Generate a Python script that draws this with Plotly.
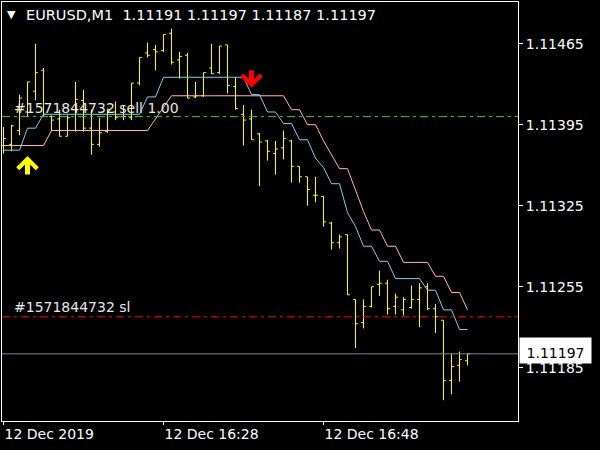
import plotly.graph_objects as go

# ---------------- data ----------------
bar_index = list(range(59))  # 1-minute bars, index 0 = 12 Dec 2019 16:08

opens = [1.11377, 1.11378, 1.11390, 1.11406, 1.11424, 1.11442, 1.11402, 1.11400, 1.11385, 1.11390,
         1.11416, 1.11392, 1.11378, 1.11389, 1.11406, 1.11402, 1.11401, 1.11431, 1.11457, 1.11460,
         1.11459, 1.11474, 1.11451, 1.11455, 1.11419, 1.11420, 1.11444, 1.11440, 1.11464, 1.11428,
         1.11404, 1.11400, 1.11387, 1.11381, 1.11370, 1.11375, 1.11381, 1.11359, 1.11350, 1.11334,
         1.11333, 1.11310, 1.11293, 1.11300, 1.11244, 1.11224, 1.11238, 1.11257, 1.11258, 1.11238,
         1.11235, 1.11237, 1.11244, 1.11255, 1.11236, 1.11226, 1.11174, 1.11187, 1.11191]
highs = [1.11393, 1.11395, 1.11421, 1.11432, 1.11465, 1.11444, 1.11403, 1.11408, 1.11403, 1.11432,
         1.11425, 1.11408, 1.11401, 1.11409, 1.11415, 1.11412, 1.11431, 1.11453, 1.11466, 1.11464,
         1.11473, 1.11478, 1.11458, 1.11457, 1.11432, 1.11440, 1.11465, 1.11463, 1.11464, 1.11436,
         1.11412, 1.11408, 1.11388, 1.11382, 1.11381, 1.11390, 1.11382, 1.11359, 1.11350, 1.11350,
         1.11333, 1.11311, 1.11300, 1.11300, 1.11244, 1.11244, 1.11255, 1.11269, 1.11261, 1.11249,
         1.11246, 1.11256, 1.11258, 1.11258, 1.11240, 1.11226, 1.11197, 1.11199, 1.11197]
lows = [1.11370, 1.11372, 1.11386, 1.11402, 1.11416, 1.11402, 1.11390, 1.11385, 1.11385, 1.11389,
        1.11389, 1.11369, 1.11376, 1.11388, 1.11399, 1.11399, 1.11399, 1.11429, 1.11453, 1.11442,
        1.11458, 1.11447, 1.11435, 1.11418, 1.11418, 1.11419, 1.11439, 1.11439, 1.11422, 1.11408,
        1.11377, 1.11382, 1.11342, 1.11364, 1.11352, 1.11365, 1.11345, 1.11345, 1.11325, 1.11328,
        1.11307, 1.11287, 1.11288, 1.11248, 1.11202, 1.11219, 1.11237, 1.11247, 1.11231, 1.11231,
        1.11230, 1.11236, 1.11220, 1.11235, 1.11215, 1.11157, 1.11162, 1.11173, 1.11187]
closes = [1.11383, 1.11394, 1.11418, 1.11432, 1.11440, 1.11404, 1.11399, 1.11385, 1.11401, 1.11417,
          1.11392, 1.11378, 1.11388, 1.11408, 1.11401, 1.11402, 1.11431, 1.11453, 1.11455, 1.11458,
          1.11473, 1.11449, 1.11454, 1.11418, 1.11420, 1.11440, 1.11439, 1.11463, 1.11429, 1.11409,
          1.11399, 1.11382, 1.11380, 1.11372, 1.11374, 1.11383, 1.11359, 1.11350, 1.11339, 1.11334,
          1.11311, 1.11293, 1.11298, 1.11248, 1.11223, 1.11238, 1.11255, 1.11258, 1.11236, 1.11246,
          1.11244, 1.11244, 1.11254, 1.11236, 1.11229, 1.11174, 1.11186, 1.11192, 1.11197]

# indicator lines (blue = fast, pink = slow)
fast_line = [1.11373, 1.11373, 1.11373, 1.11392, 1.11392, 1.11404, 1.11404, 1.11404, 1.11404, 1.11404,
             1.11404, 1.11404, 1.11404, 1.11404, 1.11404, 1.11404, 1.11404, 1.11404, 1.11419, 1.11419,
             1.11436, 1.11436, 1.11436, 1.11436, 1.11436, 1.11436, 1.11436, 1.11436, 1.11436, 1.11436,
             1.11436, 1.11421, 1.11421, 1.11406, 1.11406, 1.11396, 1.11396, 1.11382, 1.11382, 1.11366,
             1.11358, 1.11344, 1.11344, 1.11319, 1.11307, 1.11290, 1.11290, 1.11277, 1.11277, 1.11262,
             1.11262, 1.11262, 1.11262, 1.11252, 1.11252, 1.11235, 1.11235, 1.11218, 1.11218]
slow_line = [1.11377, 1.11377, 1.11377, 1.11377, 1.11377, 1.11377, 1.11390, 1.11390, 1.11390, 1.11390,
             1.11390, 1.11390, 1.11390, 1.11390, 1.11390, 1.11390, 1.11390, 1.11390, 1.11390, 1.11400,
             1.11410, 1.11420, 1.11420, 1.11420, 1.11420, 1.11420, 1.11420, 1.11420, 1.11420, 1.11420,
             1.11420, 1.11420, 1.11420, 1.11420, 1.11420, 1.11420, 1.11408, 1.11408, 1.11395, 1.11395,
             1.11381, 1.11369, 1.11357, 1.11357, 1.11338, 1.11320, 1.11304, 1.11304, 1.11290, 1.11290,
             1.11276, 1.11276, 1.11276, 1.11276, 1.11264, 1.11264, 1.11250, 1.11250, 1.11235]

# trade levels
order_price = 1.11402
stop_loss = 1.11229
bid_price = 1.11197
order_label = "#1571844732 sell 1.00"
sl_label = "#1571844732 sl"

# signal arrows
buy_signal_bar = [3]
buy_signal_price = [1.11368]
sell_signal_bar = [31]
sell_signal_price = [1.11427]

# axes
time_tick_bars = [0, 20, 40]
time_tick_labels = ["12 Dec 2019", "12 Dec 16:28", "12 Dec 16:48"]
price_ticks = [1.11465, 1.11395, 1.11325, 1.11255, 1.11185]
header = "EURUSD,M1\u00a0\u00a01.11191 1.11197 1.11187 1.11197"

FONT = "DejaVu Sans"

fig = go.Figure()

fig.add_trace(go.Ohlc(
    x=bar_index, open=opens, high=highs, low=lows, close=closes,
    increasing=dict(line=dict(color="#FFFF00", width=1)),
    decreasing=dict(line=dict(color="#FFFF00", width=1)),
    tickwidth=0.3, hoverinfo="skip"))

fig.add_trace(go.Scatter(x=bar_index, y=fast_line, mode="lines",
                         line=dict(color="#87CEEB", width=1), hoverinfo="skip"))
fig.add_trace(go.Scatter(x=bar_index, y=slow_line, mode="lines",
                         line=dict(color="#FFB6C1", width=1), hoverinfo="skip"))

# horizontal levels
fig.add_hline(y=order_price, line=dict(color="#32CD32", width=1, dash="8px,4px,3px,4px"))
fig.add_hline(y=stop_loss, line=dict(color="#FF0000", width=1, dash="8px,4px,3px,4px"))
fig.add_hline(y=bid_price, line=dict(color="#778899", width=1))

annotations = []
# header
annotations.append(dict(xref="paper", yref="paper", x=0, y=1, xanchor="left", yanchor="middle",
                        xshift=3, yshift=-12, text="\u25BC", showarrow=False,
                        font=dict(family=FONT, size=11, color="white")))
annotations.append(dict(xref="paper", yref="paper", x=0, y=1, xanchor="left", yanchor="middle",
                        xshift=22, yshift=-13, text=header, showarrow=False,
                        font=dict(family=FONT, size=14.5, color="white")))
# level labels
annotations.append(dict(xref="paper", yref="y", x=0, y=order_price, xanchor="left", yanchor="middle",
                        xshift=10, yshift=9, text=order_label, showarrow=False,
                        font=dict(family=FONT, size=14, color="#E8E8E8")))
annotations.append(dict(xref="paper", yref="y", x=0, y=stop_loss, xanchor="left", yanchor="middle",
                        xshift=10, yshift=10, text=sl_label, showarrow=False,
                        font=dict(family=FONT, size=14, color="#E8E8E8")))
# bid box
annotations.append(dict(xref="paper", yref="y", x=1, y=bid_price, xanchor="left", yanchor="middle",
                        xshift=1, yshift=3, text=f"{bid_price:.5f}", showarrow=False,
                        bgcolor="white", width=67, height=21, borderpad=2, align="center", valign="bottom",
                        font=dict(family=FONT, size=14, color="black")))
# arrows
for b, p in zip(buy_signal_bar, buy_signal_price):
    annotations.append(dict(x=b, y=p, xref="x", yref="y", ax=0, ay=20, text="",
                            showarrow=True, arrowhead=4, arrowwidth=5, arrowsize=0.75,
                            arrowcolor="#FFFF00", standoff=0))
for b, p in zip(sell_signal_bar, sell_signal_price):
    annotations.append(dict(x=b, y=p, xref="x", yref="y", ax=0, ay=-19, text="",
                            showarrow=True, arrowhead=4, arrowwidth=5, arrowsize=0.75,
                            arrowcolor="#FF0000", standoff=0))

fig.update_layout(
    width=600, height=450,
    margin=dict(l=2, r=82, t=2, b=29),
    paper_bgcolor="black", plot_bgcolor="black",
    showlegend=False,
    font=dict(family=FONT, size=14, color="white"),
    annotations=annotations,
    xaxis=dict(range=[-0.1875, 64.3125], tickvals=time_tick_bars, ticktext=time_tick_labels,
               ticks="outside", ticklen=3, tickcolor="white", showgrid=False, zeroline=False,
               showline=True, linecolor="white", linewidth=1, mirror=True,
               ticklabelposition="outside right", rangeslider=dict(visible=False),
               tickfont=dict(family=FONT, size=14, color="white"), fixedrange=True),
    yaxis=dict(side="right", range=[1.1113894, 1.1150104], tickvals=price_ticks, tickformat=".5f",
               ticks="outside", ticklen=4, tickcolor="white", showgrid=False, zeroline=False,
               showline=True, linecolor="white", linewidth=1, mirror=True,
               tickfont=dict(family=FONT, size=14, color="white"), fixedrange=True),
)

fig.write_html("out.html", config={"displayModeBar": False},
               post_script="document.body.style.margin='0px';document.body.style.background='black';")
